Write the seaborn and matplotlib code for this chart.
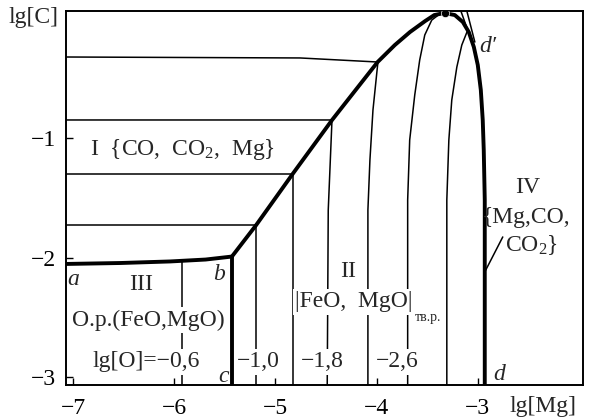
import matplotlib
matplotlib.use("Agg")
import matplotlib.pyplot as plt
import seaborn as sns
import numpy as np

# ---------------- data (lg[Mg], lg[C]) ----------------
x_ticks = [-7, -6, -5, -4, -3]
y_ticks = [-1, -2, -3]
x_lim = (-7.07, -1.96)
y_lim = (-3.067, 0.063)

# line a-b (boundary of region III)
ab_x = [-7.07, -6.53, -6.04, -5.69, -5.43]
ab_y = [-2.054, -2.046, -2.033, -2.017, -1.992]

# thick boundary b -> peak -> d
bound_x = [-5.43, -5.19, -4.83, -4.44, -3.99, -3.82, -3.67, -3.52, -3.43, -3.33,
           -3.227, -3.148, -3.089, -3.039, -3.00, -2.97, -2.951, -2.941, -2.931, -2.931]
bound_y = [-1.992, -1.728, -1.301, -0.849, -0.364, -0.222, -0.113, -0.021, 0.029, 0.046,
           0.029, -0.029, -0.113, -0.238, -0.389, -0.598, -0.849, -1.100, -1.519, -3.067]

# vertical line b-c
bc_x = [-5.43, -5.43]
bc_y = [-1.992, -3.067]

# lg[O] isolines
iso06_x = [-5.921, -5.921]
iso06_y = [-2.035, -3.067]
iso10_x = [-7.07, -5.192, -5.192]
iso10_y = [-1.728, -1.728, -3.067]
iso14_x = [-7.07, -4.826, -4.826]
iso14_y = [-1.301, -1.301, -3.067]
iso18_x = [-7.07, -4.441, -4.478, -4.488]
iso18_y = [-0.849, -0.849, -1.603, -3.067]
iso22_x = [-7.07, -4.757, -3.987, -4.036, -4.066, -4.086, -4.086]
iso22_y = [-0.322, -0.330, -0.364, -0.766, -1.184, -1.603, -3.067]
iso26_x = [-3.376, -3.455, -3.524, -3.574, -3.623, -3.673, -3.693, -3.693]
iso26_y = [0.038, -0.013, -0.138, -0.347, -0.640, -1.017, -1.519, -3.067]
iso30_x = [-3.099, -3.158, -3.207, -3.257, -3.286, -3.306, -3.306]
iso30_y = [-0.096, -0.222, -0.406, -0.682, -1.017, -1.519, -3.067]

# tangent lines near d'
tan1_x = [-3.167, -3.058]
tan1_y = [0.063, -0.197]
tan2_x = [-3.108, -3.029]
tan2_y = [0.063, -0.197]

# leader line for region IV
lead_x = [-2.931, -2.753]
lead_y = [-2.121, -1.828]

# peak point
peak_x = [-3.327]
peak_y = [0.046]

iso_labels = ["lg[O]=\u22120,6", "\u22121,0", "\u22121,8", "\u22122,6"]

# ---------------- style ----------------
sns.set_theme(style="ticks")
plt.rcParams['font.family'] = ['Liberation Serif', 'DejaVu Serif']
plt.rcParams['mathtext.fontset'] = 'custom'
plt.rcParams['mathtext.rm'] = 'Liberation Serif'
plt.rcParams['mathtext.it'] = 'Liberation Serif:italic'
plt.rcParams['axes.unicode_minus'] = True

FS = 17
fig = plt.figure(figsize=(5.94, 4.19), dpi=100)
ax = fig.add_axes([66/594, 1-385/419, (583-66)/594, (385-11)/419])
ax.set_facecolor('white')

def line(xs, ys, lw):
    sns.lineplot(x=xs, y=ys, sort=False, estimator=None, color='black',
                 linewidth=lw, ax=ax, legend=False)

thin = 1.1
thick = 2.8
for xs, ys in [(iso06_x, iso06_y), (iso10_x, iso10_y), (iso14_x, iso14_y),
               (iso18_x, iso18_y), (iso22_x, iso22_y), (iso26_x, iso26_y),
               (iso30_x, iso30_y), (tan1_x, tan1_y), (tan2_x, tan2_y),
               (lead_x, lead_y)]:
    line(xs, ys, thin)
line(ab_x, ab_y, thick)
line(bound_x, bound_y, thick)
line(bc_x, bc_y, thick)
sns.scatterplot(x=peak_x, y=peak_y, color='black', s=35, ax=ax, legend=False, zorder=5)

ax.set_xlim(*x_lim)
ax.set_ylim(*y_lim)
ax.set_xticks(x_ticks)
ax.set_yticks(y_ticks)
ax.set_xticklabels([f"\u2212{abs(v)}" for v in x_ticks])
ax.set_yticklabels([f"\u2212{abs(v)}" for v in y_ticks])
ax.tick_params(direction='in', length=5, width=1, labelsize=FS, colors='black', pad=7)
ax.tick_params(axis='x', pad=9)
for s in ax.spines.values():
    s.set_linewidth(1.4)
    s.set_color('black')
ax.set_xlabel('')
ax.set_ylabel('')

wb = dict(facecolor='white', edgecolor='none', pad=1.5)

ax.text(-6.83, -1.10, "I  {CO,  CO$_2$,  Mg}", fontsize=FS, ha='left', va='center')
ax.text(-6.326, -2.23, "III", fontsize=FS, ha='center', va='center', bbox=wb)
ax.text(-6.256, -2.523, "O.p.(FeO,MgO)", fontsize=FS, ha='center', va='center', bbox=wb)
ax.text(-5.745, -2.874, iso_labels[0], fontsize=FS, ha='right', va='center', bbox=wb)
ax.text(-5.172, -2.874, iso_labels[1], fontsize=FS, ha='center', va='center', bbox=wb)
ax.text(-4.54, -2.874, iso_labels[2], fontsize=FS, ha='center', va='center', bbox=wb)
ax.text(-3.80, -2.874, iso_labels[3], fontsize=FS, ha='center', va='center', bbox=wb)
ax.text(-4.283, -2.121, "II", fontsize=FS, ha='center', va='center', bbox=wb)
ax.text(-4.808, -2.372, "|FeO,  MgO|", fontsize=FS, ha='left', va='center', bbox=wb)
ax.text(-3.622, -2.506, "\u0442\u0432.\u0440.", fontsize=10, ha='left', va='center')
ax.text(-2.505, -1.41, "IV", fontsize=FS, ha='center', va='center')
ax.text(-2.52, -1.669, "{Mg,CO,", fontsize=FS, ha='center', va='center')
ax.text(-2.466, -1.895, "CO$_2$}", fontsize=FS, ha='center', va='center')

ax.text(-6.998, -2.188, "a", fontsize=FS, style='italic', ha='center', va='center')
ax.text(-5.556, -2.146, "b", fontsize=FS, style='italic', ha='center', va='center')
ax.text(-5.517, -3.0, "c", fontsize=FS, style='italic', ha='center', va='center')
ax.text(-2.79, -2.983, "d", fontsize=FS, style='italic', ha='center', va='center')
ax.text(-2.90, -0.238, "d\u2032", fontsize=FS, style='italic', ha='center', va='center')

ax.text(-2.358, -0.073, "lg[Mg]", fontsize=FS, ha='center', va='baseline',
        transform=ax.get_xaxis_transform(), clip_on=False)
fig.text(33/594, 1-17/419, "lg[C]", fontsize=FS, ha='center', va='center')

fig.savefig("out.png", dpi=100, facecolor='white')
